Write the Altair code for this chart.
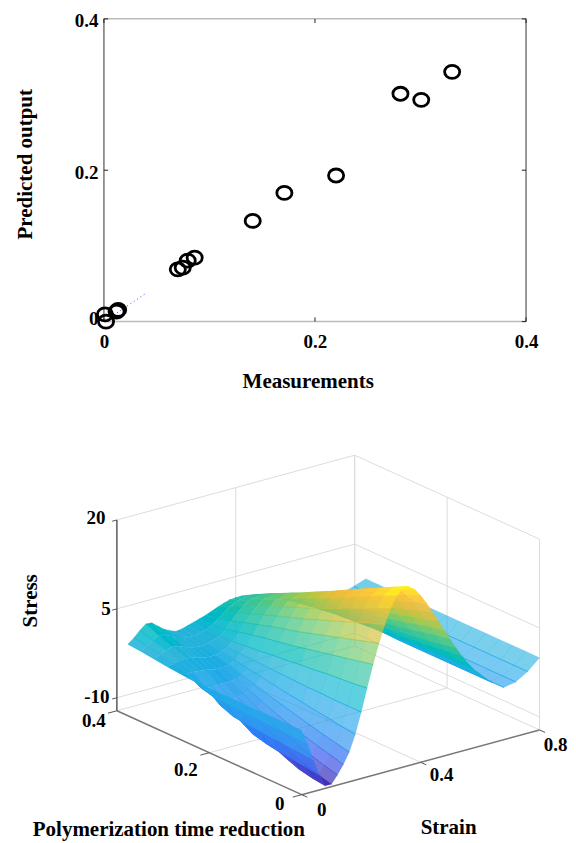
import altair as alt
import pandas as pd

# ---------- top panel values ----------
measured = [0.281, 0.3007, 0.33, 0.22, 0.171, 0.141, 0.086, 0.0794, 0.0747, 0.070, 0.0135, 0.012, 0.001, 0.002]
predicted = [0.301, 0.293, 0.33, 0.193, 0.170, 0.133, 0.0845, 0.0805, 0.0713, 0.069, 0.0154, 0.0132, 0.0096, 0.0]
fit_x = [0.0, 0.04]
fit_y = [0.0, 0.0375]
tick_values = [0, 0.2, 0.4]

# ---------- bottom panel values: stress per strain column, one entry per time row ----------
time_rows = [0.0, 0.029, 0.058, 0.087, 0.116, 0.145, 0.174, 0.203, 0.232, 0.261, 0.29, 0.319, 0.348, 0.376]
strain_cols = [0.0, 0.02, 0.04, 0.06, 0.08, 0.10, 0.12, 0.14, 0.16, 0.18, 0.20, 0.22, 0.24, 0.26, 0.28, 0.30, 0.32, 0.34, 0.36, 0.38,
               0.40, 0.42, 0.44, 0.46, 0.48, 0.50, 0.52, 0.54, 0.56, 0.58, 0.60, 0.64, 0.68, 0.72, 0.76, 0.80]
s000 = [-1.4, -1.4, -1.4, -1.4, -1.4, -1.4, -1.4, -1.4, -1.3, -1.1, -.9, -.6, -.3, -.1]
s002 = [-4, -3.9, -3.8, -3.7, -3.6, -3.5, -3.4, -3.2, -2.6, -1.3, -.6, -.1, .3, .7]
s004 = [-7, -6.8, -6.6, -6.4, -6.2, -6, -5.7, -4.8, -3, -1.3, -.4, .4, 1, 1.7]
s006 = [-9.8, -9.5, -9.2, -8.9, -8.5, -7.9, -6.5, -4.7, -3, -1.4, -.3, .6, 1.5, 2.5]
s008 = [-11.8, -11.5, -11, -10.1, -9, -7.8, -6.2, -4.5, -2.9, -1.5, -.4, .5, 1.4, 2.4]
s010 = [-11.8, -11.2, -10.4, -9.5, -8.4, -7.2, -5.8, -4.3, -2.9, -1.7, -.7, .1, .9, 1.6]
s012 = [-10.5, -9.9, -9.2, -8.4, -7.5, -6.5, -5.3, -4.1, -2.9, -1.9, -1, -.3, .3, .8]
s014 = [-9, -8.4, -7.8, -7.1, -6.4, -5.6, -4.7, -3.7, -2.7, -1.9, -1.1, -.5, 0, .3]
s016 = [-7.2, -6.7, -6.2, -5.6, -5, -4.4, -3.8, -3.1, -2.4, -1.7, -1.1, -.6, -.2, -.1]
s018 = [-4.5, -4.2, -3.8, -3.5, -3.1, -2.8, -2.4, -2, -1.6, -1.2, -.8, -.4, -.1, 0]
s020 = [-1, -1, -1, -.9, -.9, -.8, -.7, -.6, -.5, -.4, -.3, -.1, .1, .3]
s022 = [2.8, 2.5, 2.3, 2.1, 1.8, 1.6, 1.3, 1.1, .8, .6, .4, .3, .3, .6]
s024 = [6.5, 6, 5.5, 5, 4.5, 4, 3.5, 3.1, 2.7, 2.2, 1.7, 1.1, .9, .9]
s026 = [9.8, 9.1, 8.4, 7.7, 7, 6.3, 5.6, 5, 4.4, 3.7, 3, 2.3, 1.6, 1.2]
s028 = [12.7, 11.9, 11, 10.1, 9.2, 8.4, 7.5, 6.7, 5.9, 5.1, 4.2, 3.4, 2.4, 1.6]
s030 = [15.2, 14.2, 13.1, 12.1, 11, 10, 9, 8.1, 7.2, 6.2, 5.2, 4.3, 3.2, 2]
s032 = [17, 16, 14.9, 13.8, 12.6, 11.5, 10.4, 9.3, 8.2, 7.1, 6, 5, 3.7, 2.4]
s034 = [17.9, 16.7, 15.5, 14.3, 13.2, 12, 10.9, 9.8, 8.6, 7.5, 6.4, 5.2, 4, 2.7]
s036 = [18, 16.9, 15.7, 14.6, 13.4, 12.2, 11, 9.9, 8.7, 7.6, 6.5, 5.3, 4.1, 2.8]
s038 = [17.3, 16.2, 15, 13.9, 12.8, 11.7, 10.6, 9.5, 8.4, 7.4, 6.3, 5.2, 4, 2.8]
s040 = [16, 15, 14, 13, 11.9, 10.9, 9.9, 8.9, 7.9, 6.9, 5.9, 4.9, 3.8, 2.6]
s042 = [14.4, 13.5, 12.6, 11.7, 10.8, 9.9, 9, 8.1, 7.2, 6.3, 5.4, 4.5, 3.4, 2.3]
s044 = [12.6, 11.8, 11, 10.2, 9.4, 8.6, 7.9, 7.1, 6.3, 5.5, 4.7, 3.9, 3, 2]
s046 = [10.8, 10.1, 9.5, 8.8, 8.1, 7.4, 6.8, 6.1, 5.4, 4.8, 4.1, 3.4, 2.6, 1.6]
s048 = [9, 8.5, 7.9, 7.3, 6.7, 6.2, 5.6, 5, 4.4, 3.9, 3.3, 2.7, 2, 1.2]
s050 = [7.2, 6.8, 6.3, 5.8, 5.3, 4.9, 4.4, 3.9, 3.5, 3, 2.5, 2, 1.5, .9]
s052 = [5.4, 5, 4.6, 4.2, 3.9, 3.5, 3.1, 2.7, 2.4, 2, 1.6, 1.3, .9, .5]
s054 = [3.8, 3.5, 3.2, 3, 2.7, 2.4, 2.1, 1.9, 1.6, 1.3, 1.1, .8, .5, .3]
s056 = [2.3, 2.1, 1.9, 1.7, 1.5, 1.3, 1.1, 1, .8, .6, .5, .3, .2, .1]
s058 = [1, .9, .8, .7, .6, .5, .4, .3, .2, .1, .1, 0, -.1, -.1]
s060 = [0, 0, -.1, -.1, -.1, -.2, -.2, -.2, -.3, -.3, -.3, -.3, -.4, -.4]
s064 = [-2, -2, -2, -2, -2, -2, -2, -2, -1.9, -1.8, -1.6, -1.4, -1.2, -1]
s068 = [-3.4, -3.4, -3.4, -3.4, -3.4, -3.4, -3.4, -3.4, -3.4, -3.2, -2.9, -2.4, -1.9, -1.5]
s072 = [-3, -3, -3, -3, -3, -3, -3, -3, -3, -2.8, -2.5, -2.1, -1.7, -1.3]
s076 = [-1.8, -1.8, -1.8, -1.8, -1.8, -1.8, -1.8, -1.8, -1.8, -1.7, -1.5, -1.2, -.9, -.7]
s080 = [0, 0, 0, 0, 0, 0, 0, 0, 0, 0, 0, 0, 0, 0]
columns = [s000, s002, s004, s006, s008, s010, s012, s014, s016, s018, s020, s022, s024, s026, s028, s030, s032, s034, s036, s038,
           s040, s042, s044, s046, s048, s050, s052, s054, s056, s058, s060, s064, s068, s072, s076, s080]

parula_z = [-12, -9, -6, -3, 0, 3, 6, 9, 12, 15, 18]
parula_c = ["#3e26a8", "#4560ee", "#2f8ff0", "#2aa4ec", "#25b2d8", "#14bdb0", "#4cc78a", "#a3c950", "#eebb3b", "#fcc93a", "#f9fb15"]

FONT = "Liberation Serif"
TICK_SIZE = 19
TITLE_SIZE = 21
Z_FLOOR = -12.2
S_MAX, T_MAX = 0.8, 0.4
LEFT, RIGHT, TOP, BOT = 105.0, 527.5, 17.5, 320.5
SPACING = 20
B_TOP = BOT + SPACING
B_H = 490
ELLIPSE = "M -1.1 0 A 1.1 0.95 0 1 1 1.1 0 A 1.1 0.95 0 1 1 -1.1 0 Z"


def proj(s, t, z):
    """Orthographic view of the 3-D box, in the bottom panel's scale units."""
    return (303 + 297.5 * s - 462.5 * t, 794 - 81 * s - 210 * t - 5.93 * (z - Z_FLOOR))


# ---------- top panel ----------
W, H = RIGHT - LEFT, BOT - TOP
xs = alt.Scale(domain=[0, 0.4], nice=False, zero=False)
ys = alt.Scale(domain=[0, 0.4], nice=False, zero=False)
scatter_df = pd.DataFrame({"x": measured, "y": predicted})
fit_df = pd.DataFrame({"x": fit_x, "y": fit_y})
ax_common = dict(
    values=tick_values, labelExpr="datum.value === 0 ? '0' : format(datum.value, '.1f')", domain=False, ticks=False, grid=False,
    labelFlush=False, labelFont=FONT, labelFontSize=TICK_SIZE, labelFontWeight="bold", labelColor="black", titleFont=FONT,
    titleFontSize=TITLE_SIZE, titleFontWeight="bold", titleColor="black",
)
points = alt.Chart(scatter_df).mark_point(filled=False, color="black", size=190, strokeWidth=2.8, opacity=1, shape=ELLIPSE).encode(
    x=alt.X("x:Q", scale=xs, title="Measurements", axis=alt.Axis(labelPadding=11, titlePadding=19, titleX=204, **ax_common)),
    y=alt.Y("y:Q", scale=ys, title="Predicted output", axis=alt.Axis(
        labelPadding=6, titlePadding=39, titleY=145,
        labelOffset={"condition": {"test": "datum.value === 0", "value": -3}, "value": 2}, **ax_common)),
)
fit = alt.Chart(fit_df).mark_line(color="#3a3af0", strokeWidth=1, strokeDash=[1, 3]).encode(x=alt.X("x:Q", scale=xs), y=alt.Y("y:Q", scale=ys))
frame_rows_h = pd.DataFrame({"x": [0, 0], "x2": [0.4, 0.4], "y": [0, 0.4]})
frame_rows_v = pd.DataFrame({"x": [0, 0.4], "y": [0, 0], "y2": [0.4, 0.4]})
frame_h = alt.Chart(frame_rows_h).mark_rule(color="#bbbbbb", strokeWidth=1.5).encode(x=alt.X("x:Q", scale=xs), x2="x2:Q", y=alt.Y("y:Q", scale=ys))
frame_v = alt.Chart(frame_rows_v).mark_rule(color="#777777", strokeWidth=1.5).encode(x=alt.X("x:Q", scale=xs), y=alt.Y("y:Q", scale=ys), y2="y2:Q")
tick_rows = []
for v in tick_values:
    tick_rows.append({"x": v, "x2": v, "y": 0, "y2": 0.0055})
    tick_rows.append({"x": v, "x2": v, "y": 0.4 - 0.0055, "y2": 0.4})
    tick_rows.append({"x": 0, "x2": 0.004, "y": v, "y2": v})
    tick_rows.append({"x": 0.396, "x2": 0.4, "y": v, "y2": v})
ticks_top = alt.Chart(pd.DataFrame(tick_rows)).mark_rule(color="#222222", strokeWidth=1).encode(
    x=alt.X("x:Q", scale=xs), x2="x2:Q", y=alt.Y("y:Q", scale=ys), y2="y2:Q"
)
top = alt.layer(frame_h, frame_v, ticks_top, fit, points).properties(width=W, height=H)

# ---------- bottom panel ----------
px = alt.Scale(domain=[LEFT, RIGHT], nice=False, zero=False)
py = alt.Scale(domain=[B_TOP + B_H, B_TOP], nice=False, zero=False)

cells = []
cid = 0
for it in range(len(time_rows) - 2, -1, -1):
    for js in range(len(strain_cols) - 2, -1, -1):
        corners = [(js, it), (js + 1, it), (js + 1, it + 1), (js, it + 1)]
        zm = sum(columns[a][b] for a, b in corners) / 4
        pts = [proj(strain_cols[a], time_rows[b], columns[a][b]) for a, b in corners]
        area = 0.5 * abs(sum(pts[i][0] * pts[(i + 1) % 4][1] - pts[(i + 1) % 4][0] * pts[i][1] for i in range(4)))
        # a denser projected mesh looks more saturated
        density = min(1.0, 0.5 + 45 / max(area, 1) * (0.02 / (strain_cols[js + 1] - strain_cols[js])))
        for k, (X, Y) in enumerate(pts):
            cells.append({"X": X, "Y": Y, "z": zm, "cell": cid, "k": k, "op": density, "w": 0.3, "sop": 0.5})
        cid += 1
        # the mesh line of constant strain along this cell's near side
        for k, (a, b) in enumerate([corners[0], corners[3]]):
            X, Y = proj(strain_cols[a], time_rows[b], columns[a][b])
            cells.append({"X": X, "Y": Y, "z": zm, "cell": cid, "k": k, "op": 0.0, "w": 0.8, "sop": 1.0})
        cid += 1
color_scale = alt.Scale(domain=parula_z, range=parula_c)
surface = alt.Chart(pd.DataFrame(cells)).mark_line(filled=True, interpolate="linear").encode(
    x=alt.X("X:Q", scale=px, axis=None),
    y=alt.Y("Y:Q", scale=py, axis=None),
    detail="cell:N",
    fill=alt.Fill("z:Q", scale=color_scale, legend=None),
    stroke=alt.Stroke("z:Q", scale=color_scale, legend=None),
    fillOpacity=alt.FillOpacity("op:Q", scale=None, legend=None),
    strokeOpacity=alt.StrokeOpacity("sop:Q", scale=None, legend=None),
    strokeWidth=alt.StrokeWidth("w:Q", scale=None, legend=None),
    order=alt.Order("k:Q"),
)


def seg_rows(segs):
    rows = []
    for a, b in segs:
        xa, ya = proj(*a)
        xb, yb = proj(*b)
        rows.append({"X": xa, "Y": ya, "X2": xb, "Y2": yb})
    return pd.DataFrame(rows)


grid_z = [-10, 5, 20]
grid_segs = []
for z in grid_z:
    grid_segs.append(((0, T_MAX, z), (S_MAX, T_MAX, z)))
    grid_segs.append(((S_MAX, T_MAX, z), (S_MAX, 0, z)))
for s in [0.4, 0.8]:
    grid_segs.append(((s, T_MAX, Z_FLOOR), (s, T_MAX, 20)))
for t in [0.2, 0.0, 0.4]:
    grid_segs.append(((S_MAX, t, Z_FLOOR), (S_MAX, t, 20)))
grid_segs += [
    ((0.4, 0, Z_FLOOR), (0.4, T_MAX, Z_FLOOR)),
    ((0, 0.2, Z_FLOOR), (S_MAX, 0.2, Z_FLOOR)),
    ((0, T_MAX, Z_FLOOR), (S_MAX, T_MAX, Z_FLOOR)),
    ((S_MAX, T_MAX, Z_FLOOR), (S_MAX, 0, Z_FLOOR)),
]
axis_segs = [
    ((0, T_MAX, Z_FLOOR), (0, T_MAX, 20)),
    ((0, 0, Z_FLOOR), (0, T_MAX, Z_FLOOR)),
    ((0, 0, Z_FLOOR), (S_MAX, 0, Z_FLOOR)),
]
tick_segs = []
for z in grid_z:
    tick_segs.append(((0, T_MAX, z), (-0.016, T_MAX, z)))
for t in [0, 0.2, 0.4]:
    tick_segs.append(((0, t, Z_FLOOR), (-0.03, t, Z_FLOOR)))
for s in [0, 0.4, 0.8]:
    tick_segs.append(((s, 0, Z_FLOOR), (s, -0.012, Z_FLOOR)))


def seg_layer(segs, color, width):
    return alt.Chart(seg_rows(segs)).mark_rule(color=color, strokeWidth=width).encode(
        x=alt.X("X:Q", scale=px, axis=None), y=alt.Y("Y:Q", scale=py, axis=None), x2="X2:Q", y2="Y2:Q"
    )


grid_l = seg_layer(grid_segs, "#dcdcdc", 1)
axes_l = seg_layer(axis_segs[1:], "#777777", 1.5)
zaxis_l = seg_layer(axis_segs[:1], "#333333", 1.2)
ticks_l = seg_layer(tick_segs, "#555555", 1)

labels = pd.DataFrame({
    "t": ["20", "5", "-10", "0.4", "0.2", "0", "0", "0.4", "0.8"],
    "X": [97, 107, 98, 95, 187, 281, 323, 443, 557],
    "Y": [517, 608, 696, 720, 769, 803, 809, 774, 744],
})
tick_text = alt.Chart(labels).mark_text(font=FONT, fontSize=TICK_SIZE, fontWeight="bold", color="black", align="center", baseline="middle").encode(
    x=alt.X("X:Q", scale=px, axis=None), y=alt.Y("Y:Q", scale=py, axis=None), text="t:N"
)
titles = pd.DataFrame({"t": ["Strain", "Polymerization time reduction"], "X": [450, 170], "Y": [827, 829]})
title_text = alt.Chart(titles).mark_text(font=FONT, fontSize=TITLE_SIZE, fontWeight="bold", color="black", align="center", baseline="middle").encode(
    x=alt.X("X:Q", scale=px, axis=None), y=alt.Y("Y:Q", scale=py, axis=None), text="t:N"
)
stress = alt.Chart(pd.DataFrame({"t": ["Stress"], "X": [32], "Y": [600]})).mark_text(font=FONT, fontSize=TITLE_SIZE, fontWeight="bold", color="black", angle=270, align="center", baseline="middle").encode(
    x=alt.X("X:Q", scale=px, axis=None), y=alt.Y("Y:Q", scale=py, axis=None), text="t:N"
)
bottom = alt.layer(grid_l, surface, axes_l, zaxis_l, ticks_l, tick_text, title_text, stress).properties(width=W, height=B_H)

chart = alt.vconcat(top, bottom, spacing=SPACING, bounds="flush").resolve_scale(x="independent", y="independent").properties(
    padding={"left": 6, "top": 3.5, "right": 0, "bottom": 0}
).configure_view(stroke=None)
chart.save("out.html", embed_options={"renderer": "svg", "actions": False})
